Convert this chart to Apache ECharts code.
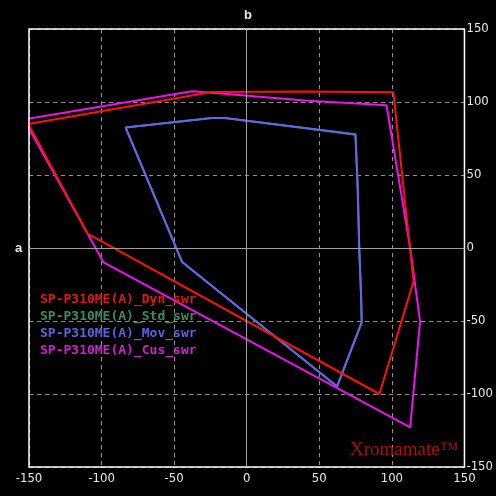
<!DOCTYPE html>
<html>
<head>
<meta charset="utf-8">
<script src="https://cdn.jsdelivr.net/npm/echarts@6/dist/echarts.min.js"></script>
<style>
html,body{margin:0;padding:0;background:#000;}
#c{width:496px;height:496px;}
</style>
</head>
<body>
<div id="c"></div>
<script>
var seriesNames = ['SP-P310ME(A)_Dyn_swr','SP-P310ME(A)_Std_swr','SP-P310ME(A)_Mov_swr','SP-P310ME(A)_Cus_swr'];
var seriesColors = ['#ff1010','#3c8c5c','#6464f0','#f010f0'];
var legendColors = ['#e01818','#3c8c5c','#6060e0','#d020d0'];

var dyn = [[-150.5,85],[-24,106.8],[40,107.2],[101,106.6],[114.9,-22.9],[91.4,-100],[-109.6,9.8],[-150.5,85]];
var std = [[-83.5,82.6],[-24,89],[-15,89],[74.9,77.6],[76.5,40],[77.5,0],[78.8,-33],[79.2,-51],[62.3,-94.8],[-44.5,-9.6],[-83.5,82.6]];
var mov = [[-83.5,82.6],[-24,89],[-15,89],[74.9,78],[76.5,40],[77.5,0],[78.8,-33],[79.2,-51],[62.3,-94.8],[-44.5,-9.6],[-83.5,82.6]];
var cus = [[-153.4,88],[-37.7,107.3],[-24,106.3],[40,101],[96.3,97.8],[112.6,0],[119.4,-50.3],[112.6,-122.9],[-98.6,-9.9],[-153.4,88]];

var axisTicks = [-150,-100,-50,0,50,100,150];

var dataList = [dyn, std, mov, cus];
var drawOrder = [1,2,3,0];

var chart = echarts.init(document.getElementById('c'));
var series = drawOrder.map(function(i){
  return {
    name: seriesNames[i],
    type: 'line',
    data: dataList[i],
    symbol: 'none',
    silent: true,
    animation: false,
    clip: false,
    lineStyle: {color: seriesColors[i], width: 2},
    itemStyle: {color: seriesColors[i]},
    z: 3
  };
});
series.push({
  type: 'line',
  data: [],
  silent: true,
  z: 1,
  markLine: {
    silent: true,
    symbol: 'none',
    label: {show: false},
    animation: false,
    lineStyle: {color: '#a0a0a0', type: 'solid', width: 1},
    data: [{xAxis: 0}, {yAxis: 0}]
  }
});

var labelStyle = {color: '#e8e8e8', fontSize: 13, fontFamily: '"Liberation Sans Narrow","DejaVu Sans Condensed","Arial Narrow","Liberation Sans",sans-serif'};

chart.setOption({
  backgroundColor: '#000',
  animation: false,
  grid: {left: 29, top: 29, width: 438, height: 438, show: true, borderColor: '#ffffff', borderWidth: 1.5, backgroundColor: 'transparent', z: 4},
  xAxis: {
    type: 'value', min: -150, max: 150, interval: 50, position: 'bottom',
    axisLine: {show: false}, axisTick: {show: false},
    axisLabel: Object.assign({margin: 5, showMinLabel: true, showMaxLabel: true}, labelStyle),
    splitLine: {show: true, lineStyle: {color: '#909090', type: [4,4], width: 1}}
  },
  yAxis: {
    type: 'value', min: -150, max: 150, interval: 50, position: 'right',
    axisLine: {show: false}, axisTick: {show: false},
    axisLabel: Object.assign({margin: 2, align: 'left', showMinLabel: true, showMaxLabel: true}, labelStyle),
    splitLine: {show: true, lineStyle: {color: '#909090', type: [4,4], width: 1}}
  },
  legend: {
    orient: 'vertical', left: 30, top: 288, icon: 'none', itemWidth: 0, itemHeight: 14, itemGap: 3.3,
    selectedMode: false,
    textStyle: {fontSize: 13, fontWeight: 'bold', fontFamily: '"DejaVu Sans Mono","Liberation Mono",monospace'},
    data: seriesNames.map(function(n, i){ return {name: n, textStyle: {color: legendColors[i]}}; })
  },
  graphic: [
    {type: 'text', left: 244, top: 9, style: {text: 'b', fill: '#e8e8e8', font: 'bold 13px "Liberation Sans",sans-serif'}},
    {type: 'text', left: 15, top: 242, style: {text: 'a', fill: '#e8e8e8', font: 'bold 13px "Liberation Sans",sans-serif'}},
    {type: 'text', left: 350, top: 441, z: 10, style: {text: 'Xromamate\u2122', fill: '#a81010', font: '19px "Liberation Serif","DejaVu Serif",serif'}}
  ],
  series: series
});
</script>
</body>
</html>
